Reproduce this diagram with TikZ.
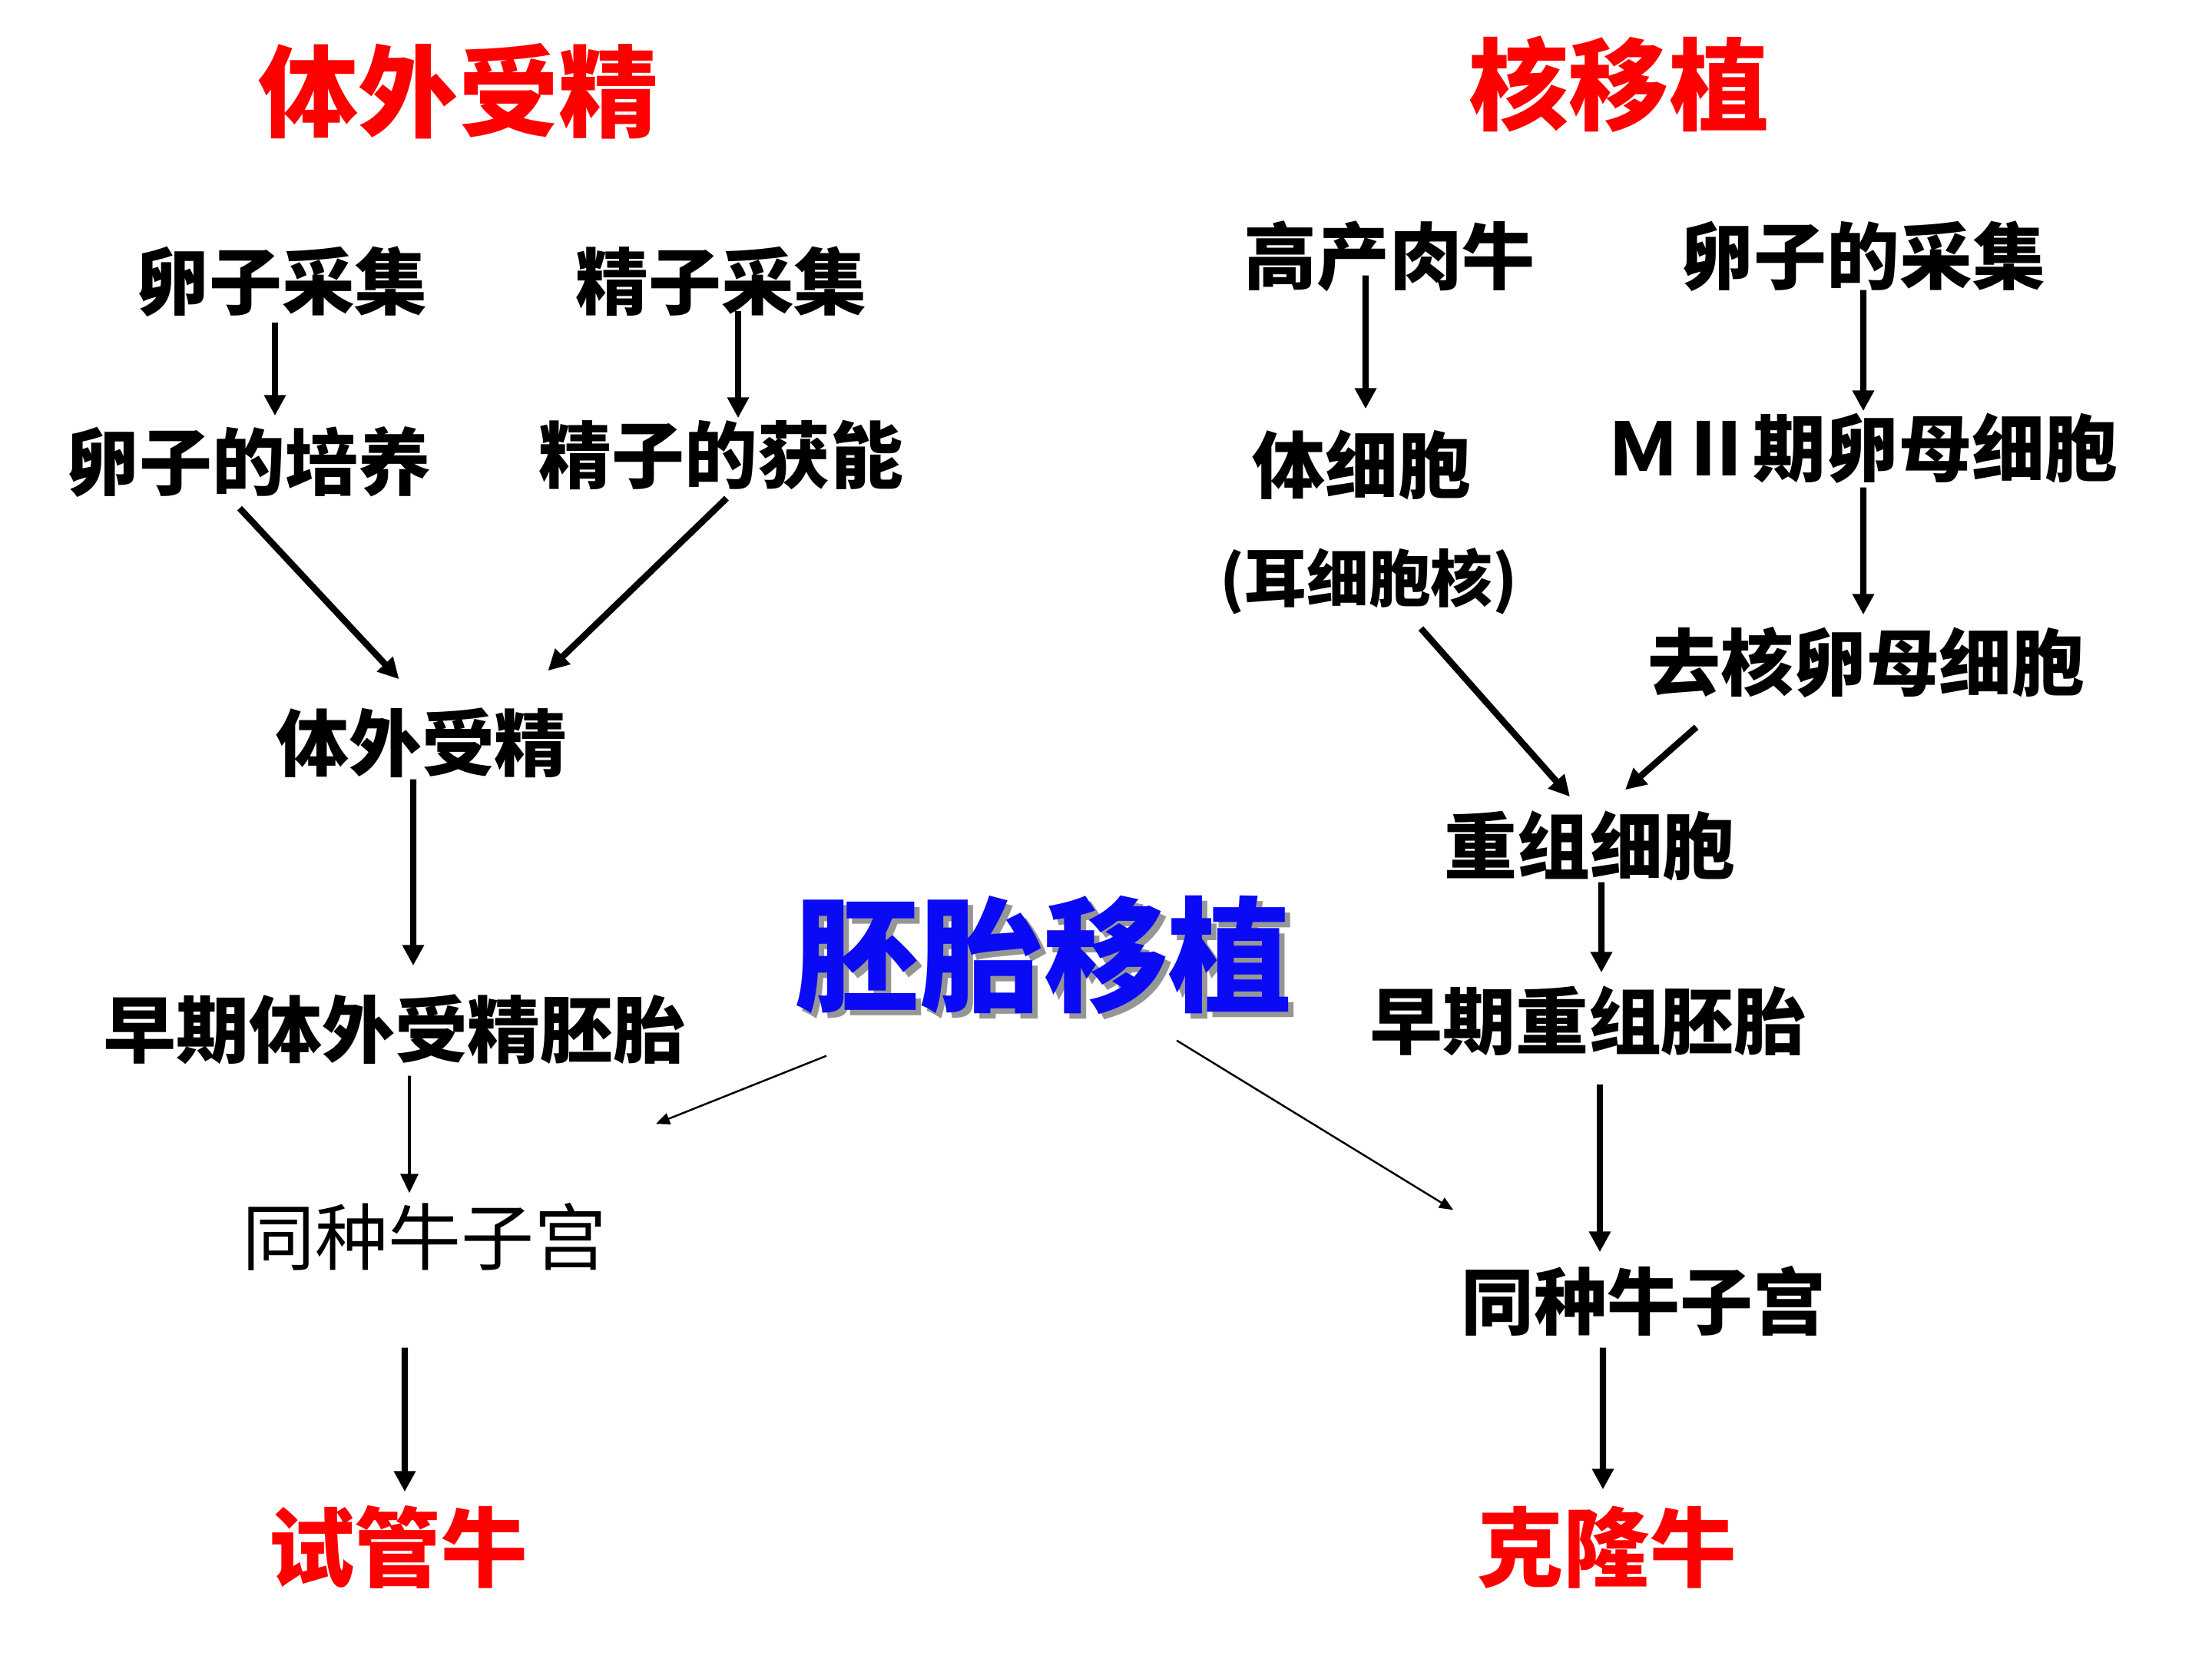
\documentclass[tikz,border=0pt]{standalone}
\usepackage{fontspec}
\newfontfamily\hei{Noto Sans CJK SC}
\usetikzlibrary{arrows.meta}
\definecolor{titlered}{RGB}{255,0,0}
\definecolor{etblue}{RGB}{10,10,245}
\definecolor{shadegray}{RGB}{150,150,150}

\begin{document}
\begin{tikzpicture}[>={Triangle[length=2.7mm,width=2.7mm]},
    txt/.style={inner sep=0pt, text height=0.79cm, text depth=0.07cm,
        font=\fontsize{27}{30}\hei\bfseries},
    plain/.style={txt, font=\fontsize{27}{30}\hei},
    small/.style={inner sep=0pt, text height=0.67cm, text depth=0.06cm,
        font=\fontsize{23}{26}\hei\bfseries},
    title/.style={inner sep=0pt, text height=1.08cm, text depth=0.09cm,
        text=titlered, font=\fontsize{37}{40}\hei\bfseries},
    result/.style={inner sep=0pt, text height=0.94cm, text depth=0.08cm,
        text=titlered, font=\fontsize{32}{35}\hei\bfseries},
    big/.style={inner sep=0pt, text height=1.35cm, text depth=0.11cm,
        font=\fontsize{46}{50}\hei\bfseries},
    fat/.style={->, line width=2.4pt},
    mid/.style={->, line width=1.1pt, >={Triangle[length=2.5mm,width=2.3mm]}},
    slim/.style={->, line width=0.7pt, >={Triangle[length=1.8mm,width=1.5mm]}}]
    \useasboundingbox (0,0) rectangle (28.8,21.6);

    % 标题
    \node[title] (ivftitle) at (5.97,20.41) {体外受精};
    \node[title] (nttitle) at (21.08,20.50) {核移植};

    % 体外受精流程
    \node[txt] (egg) at (3.67,17.93) {卵子采集};
    \node[txt] (sperm) at (9.39,17.93) {精子采集};
    \node[txt] (eggc) at (3.24,15.58) {卵子的培养};
    \node[txt] (cap) at (9.39,15.67) {精子的获能};
    \node[txt] (ivf) at (5.49,11.92) {体外受精};
    \node[txt] (embl) at (5.14,8.19) {早期体外受精胚胎};
    \node[plain] (uterl) at (5.53,5.49) {同种牛子宫};
    \node[result] (tube) at (5.18,1.45) {试管牛};

    % 核移植流程
    \node[txt] (beef) at (18.09,18.26) {高产肉牛};
    \node[txt] (eggr) at (24.26,18.26) {卵子的采集};
    \node[txt] (soma) at (17.73,15.54) {体细胞};
    \node[small] (nuc) at (17.82,14.07) {(耳细胞核)};
    \node[txt] (mii) at (24.25,15.76) {ＭⅡ期卵母细胞};
    \node[txt] (enuc) at (24.30,12.97) {去核卵母细胞};
    \node[txt] (recon) at (20.70,10.58) {重组细胞};
    \node[txt] (embr) at (20.68,8.30) {早期重组胚胎};
    \node[txt] (uterr) at (21.40,4.65) {同种牛子宫};
    \node[result] (clone) at (20.92,1.45) {克隆牛};

    % 胚胎移植（带阴影）
    \node[big, text=etblue] (et) at (13.59,9.17)
        {\rlap{\kern0.07cm\raisebox{-0.07cm}{\color{shadegray}胚胎移植}}胚胎移植};

    % 左侧箭头
    \draw[fat] ([xshift=-0.09cm,yshift=-0.09cm]egg.south) -- ([xshift=0.34cm,yshift=0.17cm]eggc.north);
    \draw[fat] ([xshift=0.22cm,yshift=0.06cm]sperm.south) -- ([xshift=0.22cm,yshift=0.05cm]cap.north);
    \draw[fat] ([xshift=-0.12cm,yshift=-0.16cm]eggc.south) -- ([xshift=1.61cm,yshift=0.40cm]ivf.north west);
    \draw[fat] ([xshift=0.07cm,yshift=-0.12cm]cap.south) -- ([xshift=-0.26cm,yshift=0.51cm]ivf.north east);
    \draw[fat] ([xshift=-0.11cm,yshift=-0.03cm]ivf.south) -- ([xshift=0.24cm,yshift=0.40cm]embl.north);
    \draw[mid] ([xshift=0.19cm,yshift=-0.16cm]embl.south) -- ([xshift=-0.20cm,yshift=0.14cm]uterl.north);
    \draw[fat] ([xshift=-0.26cm,yshift=-1.00cm]uterl.south) -- ([xshift=0.09cm,yshift=0.21cm]tube.north);

    % 右侧箭头
    \draw[fat] ([xshift=-0.31cm,yshift=0.19cm]beef.south) -- ([xshift=0.05cm,yshift=0.30cm]soma.north);
    \draw[fat] (eggr.south) -- ([xshift=0.01cm,yshift=0.05cm]mii.north);
    \draw[fat] ([xshift=0.01cm,yshift=-0.07cm]mii.south) -- ([xshift=-0.04cm,yshift=0.19cm]enuc.north);
    \draw[fat] ([xshift=0.68cm,yshift=-0.28cm]nuc.south) -- ([xshift=-0.26cm,yshift=0.21cm]recon.north);
    \draw[fat] ([xshift=0.64cm,yshift=-0.40cm]enuc.south west) -- ([xshift=0.46cm,yshift=0.30cm]recon.north);
    \draw[fat] ([xshift=0.15cm,yshift=-0.03cm]recon.south) -- ([xshift=0.17cm,yshift=0.20cm]embr.north);
    \draw[fat] ([xshift=0.15cm,yshift=-0.38cm]embr.south) -- ([xshift=-0.57cm,yshift=0.21cm]uterr.north);
    \draw[fat] ([xshift=-0.53cm,yshift=-0.16cm]uterr.south) -- ([xshift=-0.05cm,yshift=0.24cm]clone.north);

    % 胚胎移植到受体
    \draw[slim] ([xshift=0.41cm,yshift=-0.58cm]et.south west) -- ([xshift=0.63cm,yshift=1.04cm]uterl.north east);
    \draw[slim] ([xshift=-1.51cm,yshift=-0.38cm]et.south east) -- ([xshift=-0.10cm,yshift=0.76cm]uterr.north west);
\end{tikzpicture}
\end{document}
